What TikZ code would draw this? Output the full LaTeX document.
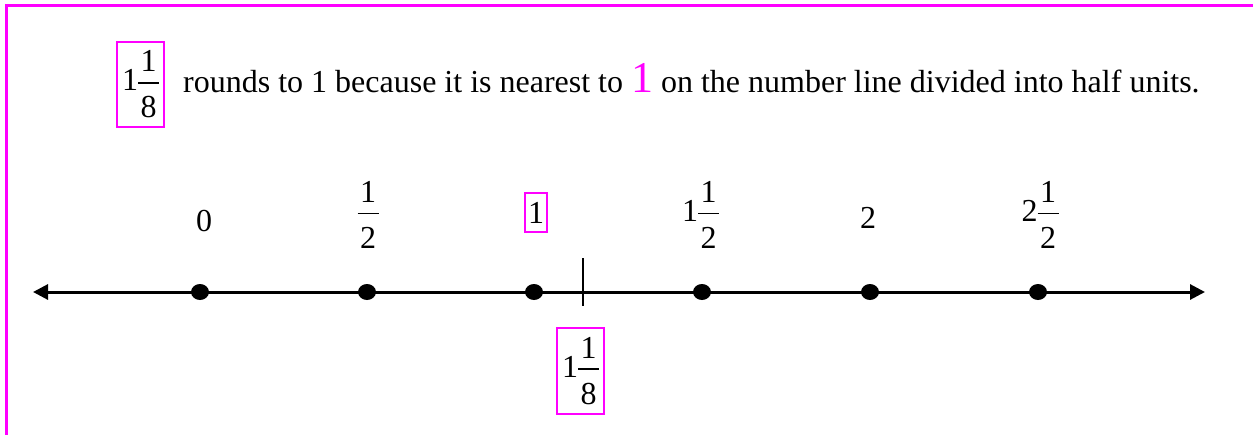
\documentclass[tikz,border=0pt]{standalone}
\usepackage{fontspec}
\setmainfont{Liberation Serif}
\usetikzlibrary{arrows.meta,shapes.geometric}
\definecolor{mag}{RGB}{255,0,255}
\newcommand{\fr}[2]{\ensuremath{\vcenter{\halign{\hfil\kern2.5pt##\kern2.5pt\hfil\cr\mbox{#1}\cr\noalign{\kern10pt\hrule height 1.8pt\kern13pt}\mbox{#2}\cr}}}}
\newcommand{\mixed}[3]{\ensuremath{\mbox{#1}\fr{#2}{#3}}}
\tikzset{
  lbl/.style={inner sep=0pt, font=\fontsize{32}{38}\selectfont},
  magbox/.style={draw=mag, line width=1.6pt, inner sep=0pt, font=\fontsize{32}{38}\selectfont},
  dot/.style={ellipse, fill=black, inner sep=0pt, minimum width=18pt, minimum height=16pt},
  numline/.style={line width=3pt, {Triangle[length=15pt,width=15pt]}-{Triangle[length=15pt,width=15pt]}},
  frame/.style={draw=mag, line width=2.2pt},
}
\begin{document}
\begin{tikzpicture}[x=1pt,y=-1pt]
\useasboundingbox (0,0) rectangle (1253,434);
% frame (only top and left edges visible)
\coordinate (fbl) at (6.5,436);
\coordinate (ftl) at (6.5,5.5);
\coordinate (ftr) at (1256,5.5);
\draw[frame] (fbl) -- (ftl) -- (ftr);
% heading
\node[magbox, minimum width=47pt, minimum height=85pt] (topbox) at (140.5,84.5) {\mixed{1}{1}{8}};
\node[lbl, anchor=base west] (sentence) at (183,92) {rounds to 1 because it is nearest to {\color{mag}\fontsize{44}{44}\selectfont 1} on the number line divided into half units.};
% number line
\coordinate (L) at (33,292);
\coordinate (R) at (1205,292);
\draw[numline] (L) -- (R);
\node[dot] (d0) at (200,292) {};
\node[dot] (d1) at (367,292) {};
\node[dot] (d2) at (534,292) {};
\node[dot] (d3) at (702,292) {};
\node[dot] (d4) at (870,292) {};
\node[dot] (d5) at (1038,292) {};
% tick for 1 1/8
\coordinate (tt) at (583,258);
\coordinate (tb) at (583,306);
\draw[line width=2pt] (tt) -- (tb);
% labels above
\node[lbl] (l0) at (204,221) {0};
\node[lbl] (l1) at (368,215) {\fr{1}{2}};
\node[magbox, minimum width=22pt, minimum height=39pt] (l2) at (536,212.5) {1};
\node[lbl] (l3) at (700.5,215) {\mixed{1}{1}{2}};
\node[lbl] (l4) at (868,218) {2};
\node[lbl] (l5) at (1040,215) {\mixed{2}{1}{2}};
% label below
\node[magbox, minimum width=47pt, minimum height=86pt] (botbox) at (580.5,371) {\mixed{1}{1}{8}};
\end{tikzpicture}
\end{document}
